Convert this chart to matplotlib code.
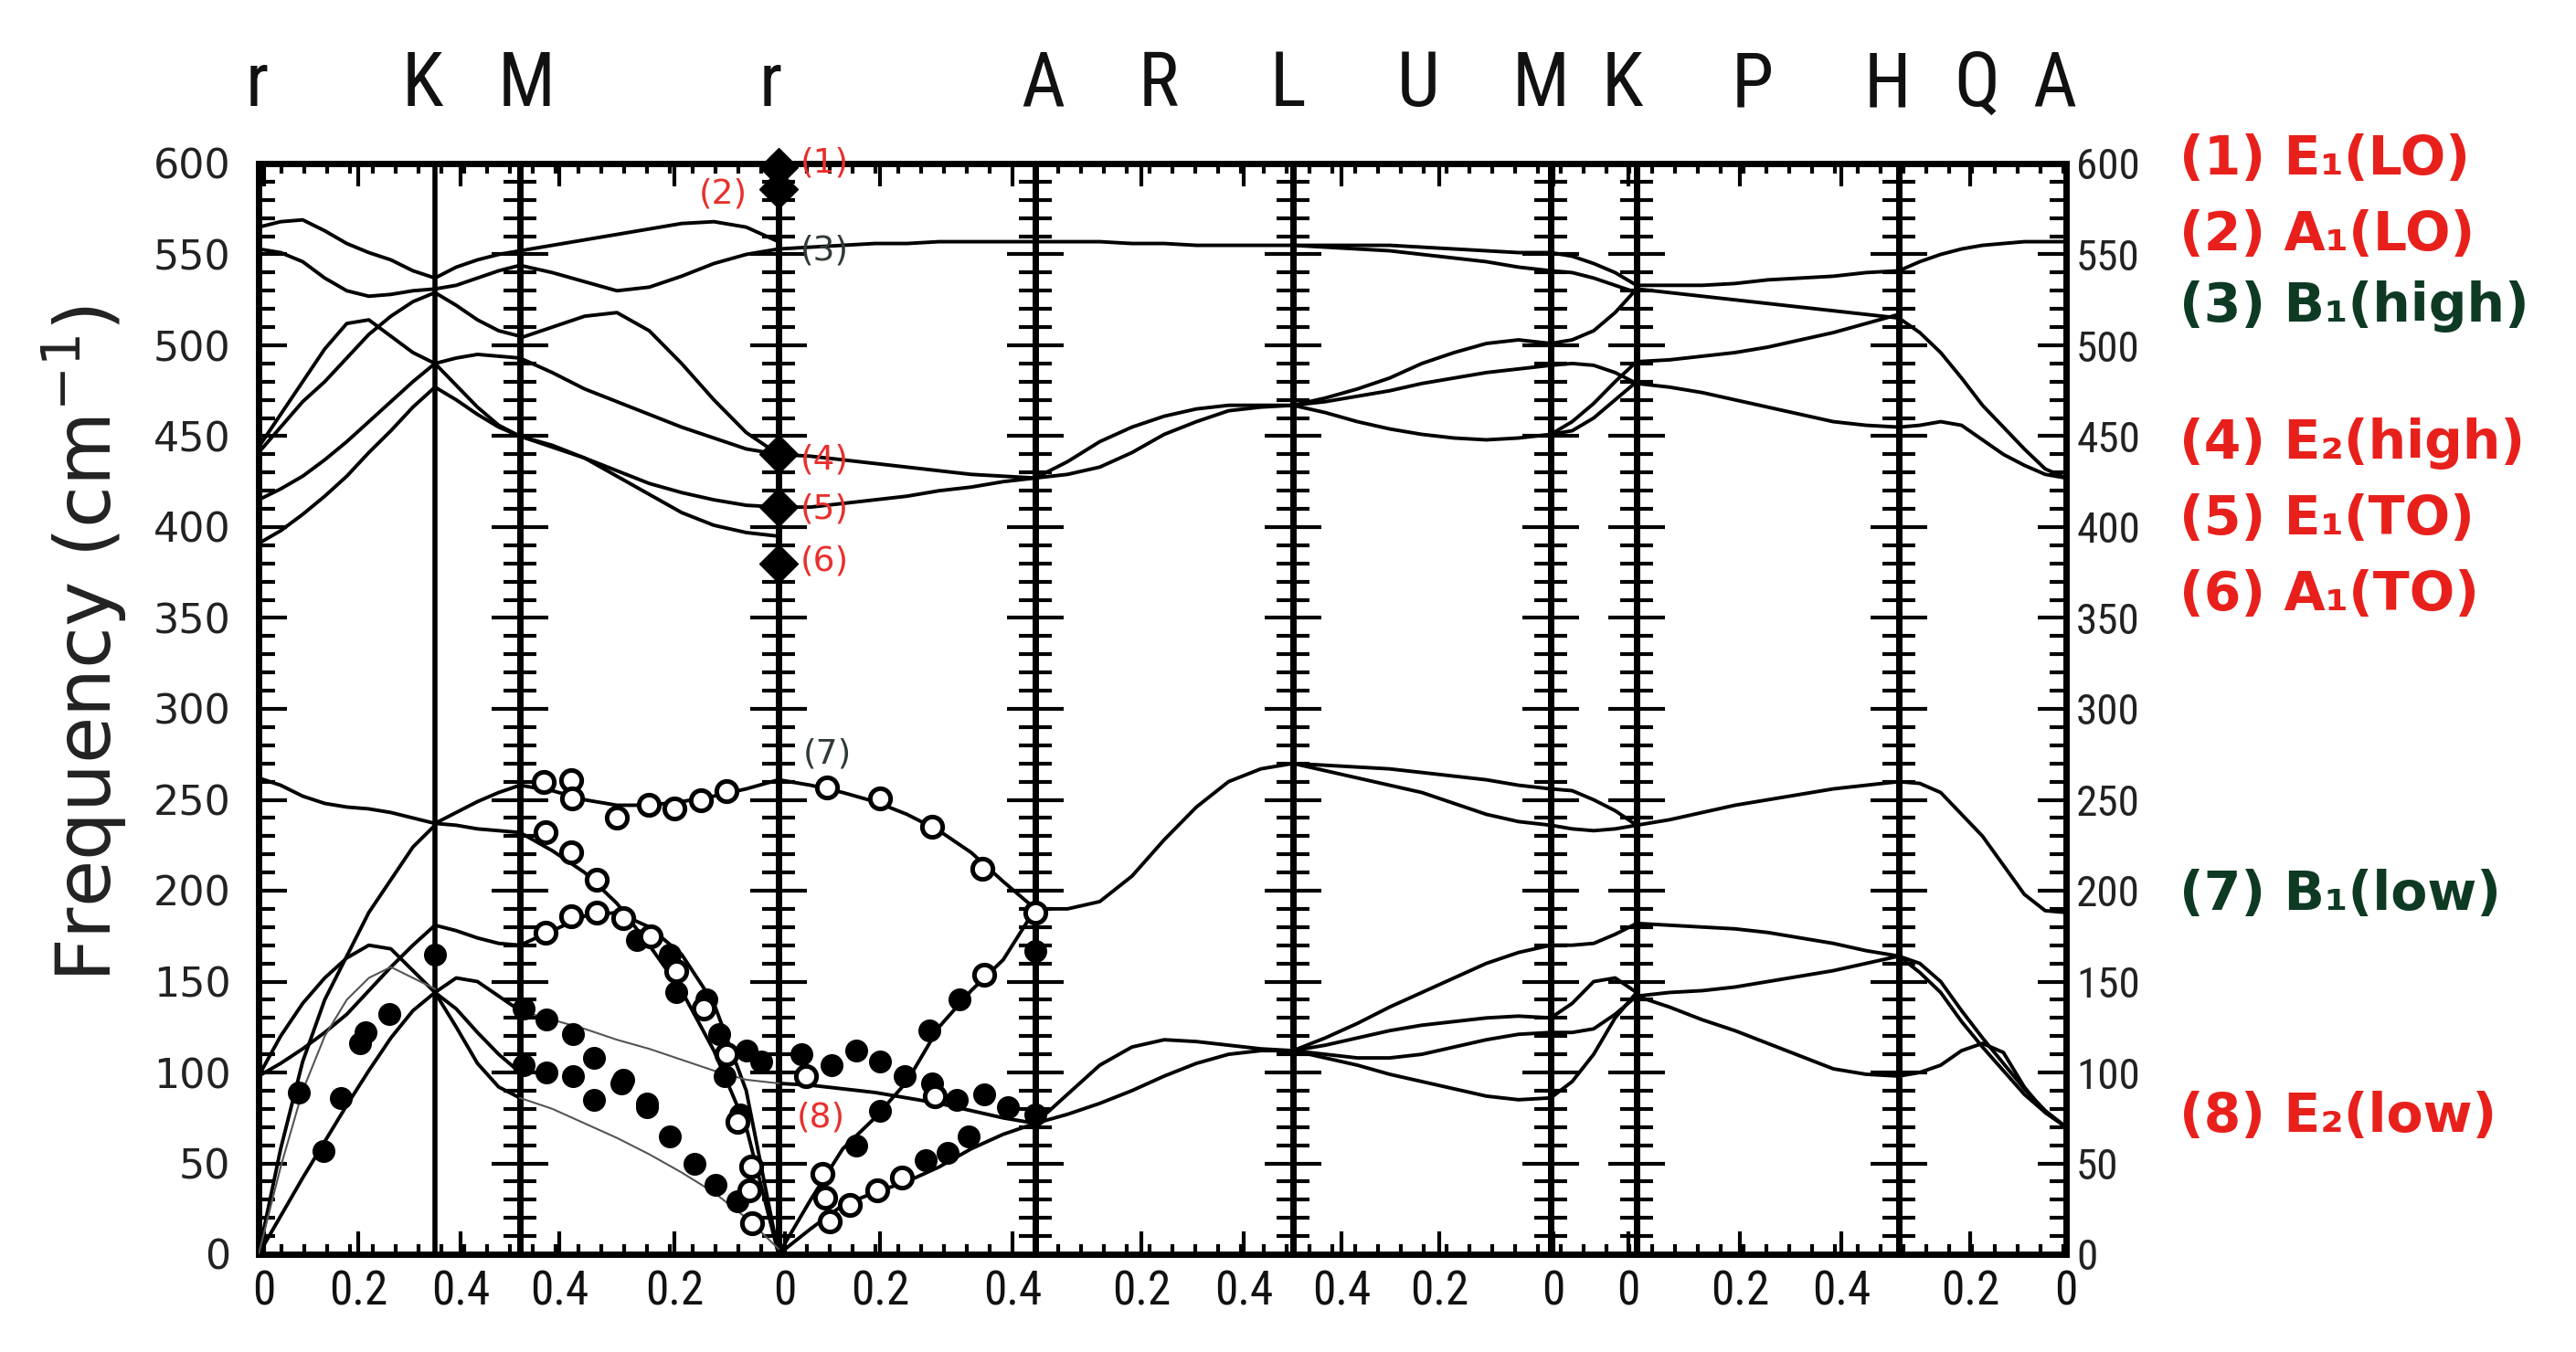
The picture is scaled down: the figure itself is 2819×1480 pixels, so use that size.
import numpy as np
import matplotlib
matplotlib.use('Agg')
import matplotlib.pyplot as plt
from matplotlib import font_manager
from matplotlib.ticker import MultipleLocator, FixedLocator

# path position of the high-symmetry points:  G  K  M  G  A  L  M  K  H  A
kpos = [0.00, 1.93, 2.86, 5.69, 8.50, 11.32, 14.14, 15.08, 17.95, 19.78]
panel_edges = [0.00, 2.86, 5.69, 8.50, 11.32, 14.14, 15.08, 17.95, 19.78]

top_labels = ['r', 'K', 'M', 'r', 'A', 'R', 'L', 'U', 'M', 'K', 'P', 'H', 'Q', 'A']
top_label_pos = [-0.02, 1.79, 2.93, 5.60, 8.58, 9.85, 11.26, 12.69, 14.03, 14.92, 16.35, 17.82, 18.80, 19.65]

q_labels = ['0', '0.2', '0.4', '0.4', '0.2', '0', '0.2', '0.4', '0.2', '0.4',
            '0.4', '0.2', '0', '0', '0.2', '0.4', '0.2', '0']
q_label_pos = [0.06, 1.09, 2.21, 3.29, 4.55, 5.76, 6.80, 8.25, 9.66, 10.78,
               11.85, 12.92, 14.17, 14.99, 16.21, 17.32, 18.73, 19.78]

# calculated branches (cm-1), sampled evenly along each segment
gk_bands = [
    [565, 568, 569, 563, 556, 551, 547, 541, 537],
    [553, 551, 546, 537, 530, 527, 528, 530, 531],
    [444, 462, 480, 498, 512, 514, 505, 496, 490],
    [441, 455, 469, 480, 493, 506, 516, 524, 529],
    [415, 421, 428, 437, 447, 458, 469, 480, 490],
    [391, 398, 407, 417, 428, 441, 453, 466, 477],
    [262, 258, 252, 248, 246, 245, 243, 240, 237],
    [0, 58, 106, 140, 164, 188, 206, 224, 236],
    [98, 120, 138, 152, 163, 170, 168, 156, 144],
    [98, 105, 113, 122, 132, 145, 158, 170, 181],
    [0, 21, 42, 62, 82, 101, 119, 134, 144],
]
gk_thin = [[0, 48, 90, 120, 140, 152, 158, 152, 146]]

km_bands = [
    [537, 543, 547, 550, 552],
    [531, 533, 537, 541, 544],
    [529, 522, 514, 508, 505],
    [490, 493, 495, 494, 493],
    [490, 478, 466, 456, 450],
    [477, 470, 462, 455, 450],
    [237, 243, 249, 254, 258],
    [237, 236, 234, 233, 232],
    [181, 178, 174, 171, 170],
    [144, 152, 150, 142, 134],
    [144, 135, 122, 110, 100],
    [144, 125, 105, 92, 86],
]

mg_bands = [
    [552, 555, 558, 561, 564, 567, 568, 565, 557],
    [544, 540, 535, 530, 532, 538, 545, 550, 553],
    [504, 510, 516, 518, 508, 490, 470, 452, 440],
    [493, 485, 476, 469, 462, 455, 449, 443, 440],
    [450, 445, 438, 431, 424, 419, 415, 412, 411],
    [450, 444, 438, 428, 418, 408, 401, 397, 395],
    [258, 255, 250, 247, 247, 249, 252, 256, 261],
    [232, 222, 210, 193, 170, 145, 112, 70, 0],
    [170, 178, 186, 188, 180, 165, 138, 90, 0],
]
mg_thin = [
    [134, 129, 124, 118, 113, 107, 101, 96, 94],
    [86, 80, 72, 64, 55, 45, 34, 20, 3],
]

ga_bands = [
    [553, 554, 555, 556, 556, 557, 557, 557, 557],
    [440, 439, 437, 435, 433, 431, 429, 428, 427],
    [411, 411, 413, 415, 417, 420, 422, 425, 427],
    [261, 258, 254, 249, 242, 233, 221, 205, 190],
    [0, 30, 58, 75, 95, 125, 145, 162, 190],
    [94, 93, 91, 89, 86, 83, 79, 75, 72],
    [0, 14, 27, 34, 40, 48, 58, 66, 72],
]

al_bands = [
    [557, 557, 557, 556, 556, 555, 555, 555, 555],
    [427, 436, 447, 455, 461, 465, 467, 467, 467],
    [427, 429, 433, 441, 451, 458, 464, 466, 467],
    [190, 190, 194, 208, 228, 246, 260, 267, 270],
    [72, 88, 104, 114, 118, 117, 115, 113, 112],
    [72, 77, 83, 90, 98, 105, 110, 112, 112],
]

lm_bands = [
    [555, 555, 555, 555, 554, 553, 552, 551, 551],
    [555, 554, 553, 552, 550, 548, 546, 543, 541],
    [467, 471, 476, 482, 490, 496, 501, 503, 501],
    [467, 469, 472, 475, 479, 482, 485, 487, 489],
    [467, 463, 458, 454, 451, 449, 448, 449, 451],
    [270, 269, 268, 267, 265, 263, 261, 258, 256],
    [270, 266, 262, 258, 254, 248, 242, 238, 236],
    [112, 119, 127, 136, 144, 152, 160, 166, 170],
    [112, 115, 119, 123, 126, 128, 130, 131, 130],
    [112, 110, 108, 108, 110, 114, 118, 121, 122],
    [112, 108, 104, 99, 95, 91, 87, 85, 86],
]

mk_bands = [
    [551, 549, 545, 540, 533],
    [541, 540, 537, 533, 529],
    [501, 503, 508, 518, 531],
    [489, 490, 489, 485, 479],
    [451, 458, 468, 480, 491],
    [451, 453, 460, 470, 480],
    [256, 255, 250, 244, 236],
    [236, 234, 233, 234, 236],
    [170, 170, 171, 176, 182],
    [130, 138, 150, 152, 144],
    [122, 122, 124, 132, 142],
    [86, 95, 110, 130, 144],
]

kh_bands = [
    [533, 533, 533, 534, 536, 537, 538, 540, 541],
    [531, 529, 527, 525, 523, 521, 519, 517, 515],
    [491, 492, 494, 496, 499, 503, 507, 512, 517],
    [479, 477, 474, 470, 466, 462, 458, 456, 455],
    [236, 239, 243, 247, 250, 253, 256, 258, 260],
    [182, 181, 180, 179, 177, 174, 171, 167, 164],
    [142, 144, 145, 147, 150, 153, 156, 160, 164],
    [142, 136, 129, 123, 116, 109, 102, 99, 98],
]

ha_bands = [
    [541, 546, 550, 553, 555, 556, 557, 557, 557],
    [515, 507, 496, 482, 467, 455, 443, 432, 427],
    [455, 456, 458, 456, 448, 440, 434, 429, 427],
    [260, 259, 254, 242, 230, 214, 198, 189, 188],
    [164, 155, 144, 128, 114, 101, 88, 78, 70],
    [164, 160, 150, 134, 119, 105, 91, 79, 70],
    [98, 100, 104, 112, 116, 111, 92, 78, 70],
]

segments = [(0, 1, gk_bands), (1, 2, km_bands), (2, 3, mg_bands), (3, 4, ga_bands),
            (4, 5, al_bands), (5, 6, lm_bands), (6, 7, mk_bands), (7, 8, kh_bands),
            (8, 9, ha_bands)]
thin_segments = [(0, 1, gk_thin), (2, 3, mg_thin)]

# experimental points (path position, cm-1)
filled_q = [0.44, 0.71, 0.90, 1.11, 1.17, 1.43, 1.93, 2.90, 2.90,
            3.15, 3.44, 3.67, 3.99, 4.25, 4.50, 4.77, 5.00, 5.24,
            3.15, 3.44, 3.67, 3.97, 4.25,
            4.14, 4.50, 4.57, 4.90, 5.04, 5.10, 5.27, 5.34, 5.50,
            8.50, 7.67, 7.34, 6.80, 6.54, 5.94, 6.27, 6.54, 6.80, 7.07,
            7.37, 7.64, 7.94, 8.20, 8.50, 7.30, 7.54, 7.77]
filled_f = [89, 57, 86, 116, 122, 132, 165, 135, 104,
            129, 121, 108, 96, 83, 65, 50, 38, 29,
            100, 98, 85, 94, 81,
            173, 165, 144, 140, 121, 98, 77, 112, 106,
            167, 140, 123, 79, 60, 110, 104, 112, 106, 98,
            94, 85, 88, 81, 77, 52, 56, 65]
open_q = [3.12, 3.42, 3.43, 3.92, 4.27, 4.55, 4.84, 5.12,
          3.14, 3.42, 3.70,
          3.14, 3.42, 3.70, 3.99, 4.29, 4.57, 4.87, 5.12, 5.24, 5.39, 5.37, 5.40,
          6.22, 6.80, 7.37, 7.92, 8.50, 7.94, 6.17, 6.20, 6.25, 5.99, 6.47,
          6.77, 7.04, 7.40]
open_f = [260, 261, 251, 240, 247, 245, 250, 255,
          232, 221, 206,
          177, 186, 188, 185, 175, 156, 135, 110, 73, 48, 35, 17,
          257, 251, 235, 212, 188, 154, 44, 31, 18, 98, 27,
          35, 42, 87]

# Raman modes at the zone centre
raman_f = [598, 586, 440, 411, 380]

mode_tags = ['(1)', '(2)', '(3)', '(4)', '(5)', '(6)', '(7)', '(8)']
mode_tag_q = [6.19, 5.08, 6.19, 6.19, 6.19, 6.19, 6.22, 6.15]
mode_tag_f = [600, 583, 552, 437, 410, 381, 275, 75]
mode_tag_colors = ['#e8302c', '#e8302c', '#2f3b33', '#e8302c', '#e8302c', '#e8302c', '#2f3b33', '#e8302c']

legend_texts = ['(1) E\u2081(LO)', '(2) A\u2081(LO)', '(3) B\u2081(high)', '(4) E\u2082(high)',
                '(5) E\u2081(TO)', '(6) A\u2081(TO)', '(7) B\u2081(low)', '(8) E\u2082(low)']
legend_colors = ['#e8201c', '#e8201c', '#0e3a24', '#e8201c', '#e8201c', '#e8201c', '#0e3a24', '#e8201c']
legend_y = [0.882, 0.826, 0.773, 0.672, 0.616, 0.560, 0.338, 0.174]


def pick_font(names):
    for n in names:
        try:
            font_manager.findfont(n, fallback_to_default=False)
            return n
        except ValueError:
            pass
    return 'DejaVu Sans'


narrow = pick_font(['Liberation Sans Narrow', 'DejaVu Sans Condensed', 'Roboto Condensed',
                    'Open Sans Condensed', 'Noto Sans Condensed', 'DejaVu Sans'])

fig = plt.figure(figsize=(28.19, 14.80), dpi=100)
L, B, W, H = 283 / 2819, 107 / 1480, 1978 / 2819, 1194 / 1480
tot = kpos[-1]

# framed panels with inward ticks (gives the ticked vertical lines)
frames = []
for x0, x1 in zip(panel_edges[:-1], panel_edges[1:]):
    axf = fig.add_axes([L + W * x0 / tot, B, W * (x1 - x0) / tot, H])
    axf.set_xlim(x0, x1)
    axf.set_ylim(0, 600)
    axf.xaxis.set_major_locator(FixedLocator([p for p in q_label_pos if x0 <= p <= x1]))
    axf.xaxis.set_minor_locator(MultipleLocator(0.25))
    axf.yaxis.set_major_locator(MultipleLocator(50))
    axf.yaxis.set_minor_locator(MultipleLocator(10))
    axf.tick_params(which='both', direction='in', top=True, bottom=True, left=True, right=True,
                    labelleft=False, labelbottom=False, width=3, color='black')
    axf.tick_params(axis='y', which='major', length=22)
    axf.tick_params(axis='y', which='minor', length=13)
    axf.tick_params(axis='x', which='major', length=18)
    axf.tick_params(axis='x', which='minor', length=8)
    for s in axf.spines.values():
        s.set_linewidth(5)
    frames.append(axf)

frames[0].tick_params(axis='y', which='major', labelleft=True, labelsize=32, pad=22, labelcolor='#222222')
frames[-1].tick_params(axis='y', which='major', labelright=True, labelsize=34, pad=8, labelcolor='#222222')
for t in frames[-1].yaxis.get_major_ticks():
    t.label2.set_fontfamily(narrow)

# data layer
ax = fig.add_axes([L, B, W, H])
ax.set_xlim(0, tot)
ax.set_ylim(0, 600)
ax.patch.set_visible(False)
for s in ax.spines.values():
    s.set_visible(False)
ax.set_yticks([])
ax.set_xticks(q_label_pos, q_labels)
ax.tick_params(axis='x', length=0, pad=12, labelsize=37, labelcolor='#111111')
for lab in ax.get_xticklabels():
    lab.set_fontfamily(narrow)

ax.axvline(kpos[1], color='black', lw=4)

for i0, i1, branches in segments:
    for br in branches:
        x = np.linspace(kpos[i0], kpos[i1], len(br))
        ax.plot(x, br, color='black', lw=2.8, solid_capstyle='round', solid_joinstyle='round')
for i0, i1, branches in thin_segments:
    for br in branches:
        x = np.linspace(kpos[i0], kpos[i1], len(br))
        ax.plot(x, br, color='#555555', lw=1.5)

ax.plot(filled_q, filled_f, 'o', ms=17, color='black', clip_on=False, zorder=4)
ax.plot(open_q, open_f, 'o', ms=16, mfc='white', mec='black', mew=3.6, clip_on=False, zorder=5)
ax.plot([kpos[3]] * len(raman_f), raman_f, linestyle='none', marker='D', ms=21,
        color='black', clip_on=False, zorder=6)

for tag, q, f, c in zip(mode_tags, mode_tag_q, mode_tag_f, mode_tag_colors):
    ax.text(q, f, tag, color=c, fontsize=27, ha='center', va='center', zorder=7)

# high-symmetry point labels on top
for lab, p in zip(top_labels, top_label_pos):
    ax.text(p, 1.072, lab, transform=ax.get_xaxis_transform(), fontsize=60,
            ha='center', va='center', family=narrow, color='#111111')

fig.text(0.033, 0.524, 'Frequency (cm$^{-1}$)', rotation=90, fontsize=60,
         ha='center', va='center', color='#222222')

for txt, c, y in zip(legend_texts, legend_colors, legend_y):
    fig.text(0.846, y, txt, color=c, fontsize=42, fontweight='bold', ha='left', va='center')

fig.savefig('out.png', dpi=100)
